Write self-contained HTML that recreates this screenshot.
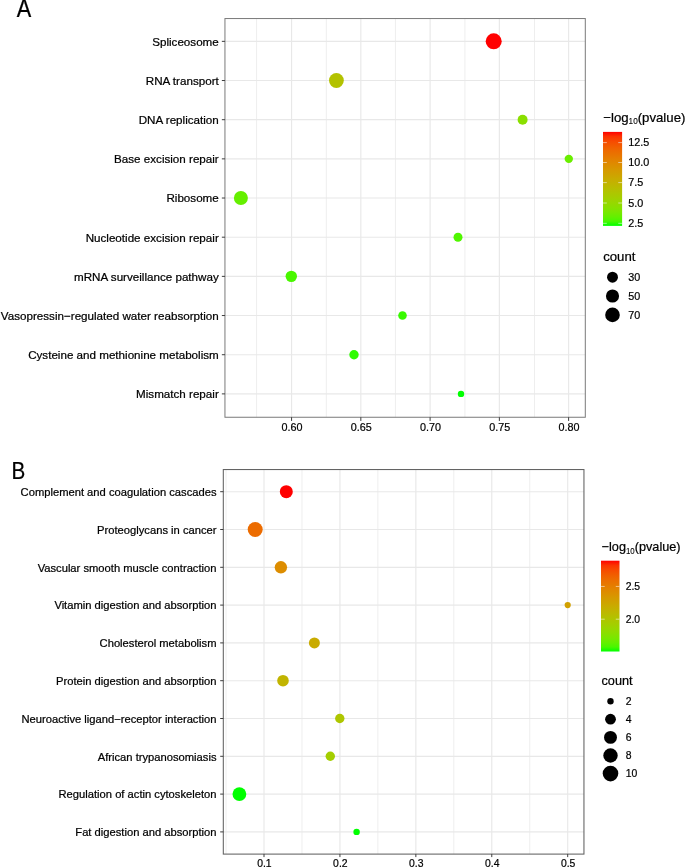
<!DOCTYPE html>
<html><head><meta charset="utf-8"><title>Pathway enrichment</title>
<style>
html,body{margin:0;padding:0;background:#fff;}
body{width:685px;height:868px;overflow:hidden;}
svg{display:block;}
svg text{font-family:"Liberation Sans",Arial,Helvetica,sans-serif;stroke:#000;stroke-width:0.22px;}
</style></head><body>
<svg width="685" height="868" viewBox="0 0 685 868">
<rect width="685" height="868" fill="#fff"/>
<line x1="256.60" x2="256.60" y1="18.55" y2="417.25" stroke="#eeeeee" stroke-width="1.0"/>
<line x1="326.30" x2="326.30" y1="18.55" y2="417.25" stroke="#eeeeee" stroke-width="1.0"/>
<line x1="395.40" x2="395.40" y1="18.55" y2="417.25" stroke="#eeeeee" stroke-width="1.0"/>
<line x1="464.90" x2="464.90" y1="18.55" y2="417.25" stroke="#eeeeee" stroke-width="1.0"/>
<line x1="534.50" x2="534.50" y1="18.55" y2="417.25" stroke="#eeeeee" stroke-width="1.0"/>
<line x1="291.57" x2="291.57" y1="18.55" y2="417.25" stroke="#e8e8e8" stroke-width="1.15"/>
<line x1="360.83" x2="360.83" y1="18.55" y2="417.25" stroke="#e8e8e8" stroke-width="1.15"/>
<line x1="430.10" x2="430.10" y1="18.55" y2="417.25" stroke="#e8e8e8" stroke-width="1.15"/>
<line x1="499.36" x2="499.36" y1="18.55" y2="417.25" stroke="#e8e8e8" stroke-width="1.15"/>
<line x1="568.62" x2="568.62" y1="18.55" y2="417.25" stroke="#e8e8e8" stroke-width="1.15"/>
<line x1="224.95" x2="585.3" y1="41.35" y2="41.35" stroke="#e8e8e8" stroke-width="1.15"/>
<line x1="224.95" x2="585.3" y1="80.52" y2="80.52" stroke="#e8e8e8" stroke-width="1.15"/>
<line x1="224.95" x2="585.3" y1="119.69" y2="119.69" stroke="#e8e8e8" stroke-width="1.15"/>
<line x1="224.95" x2="585.3" y1="158.86" y2="158.86" stroke="#e8e8e8" stroke-width="1.15"/>
<line x1="224.95" x2="585.3" y1="198.03" y2="198.03" stroke="#e8e8e8" stroke-width="1.15"/>
<line x1="224.95" x2="585.3" y1="237.20" y2="237.20" stroke="#e8e8e8" stroke-width="1.15"/>
<line x1="224.95" x2="585.3" y1="276.37" y2="276.37" stroke="#e8e8e8" stroke-width="1.15"/>
<line x1="224.95" x2="585.3" y1="315.54" y2="315.54" stroke="#e8e8e8" stroke-width="1.15"/>
<line x1="224.95" x2="585.3" y1="354.71" y2="354.71" stroke="#e8e8e8" stroke-width="1.15"/>
<line x1="224.95" x2="585.3" y1="393.88" y2="393.88" stroke="#e8e8e8" stroke-width="1.15"/>
<circle cx="493.70" cy="41.35" r="8.00" fill="#ff0000"/>
<circle cx="336.40" cy="80.52" r="7.40" fill="#b3c200"/>
<circle cx="522.60" cy="119.69" r="5.00" fill="#8adf00"/>
<circle cx="568.80" cy="158.86" r="4.20" fill="#6aee00"/>
<circle cx="240.90" cy="198.03" r="7.00" fill="#65ef00"/>
<circle cx="458.00" cy="237.20" r="4.50" fill="#50f600"/>
<circle cx="291.30" cy="276.37" r="5.70" fill="#49f700"/>
<circle cx="402.50" cy="315.54" r="4.30" fill="#38fa00"/>
<circle cx="354.00" cy="354.71" r="4.70" fill="#2efc00"/>
<circle cx="461.00" cy="393.88" r="3.20" fill="#00ff00"/>
<rect x="224.95" y="18.55" width="360.34999999999997" height="398.7" fill="none" stroke="#7a7a7a" stroke-width="1"/>
<line x1="221.85" x2="224.95" y1="41.35" y2="41.35" stroke="#333" stroke-width="0.95"/>
<line x1="221.85" x2="224.95" y1="80.52" y2="80.52" stroke="#333" stroke-width="0.95"/>
<line x1="221.85" x2="224.95" y1="119.69" y2="119.69" stroke="#333" stroke-width="0.95"/>
<line x1="221.85" x2="224.95" y1="158.86" y2="158.86" stroke="#333" stroke-width="0.95"/>
<line x1="221.85" x2="224.95" y1="198.03" y2="198.03" stroke="#333" stroke-width="0.95"/>
<line x1="221.85" x2="224.95" y1="237.20" y2="237.20" stroke="#333" stroke-width="0.95"/>
<line x1="221.85" x2="224.95" y1="276.37" y2="276.37" stroke="#333" stroke-width="0.95"/>
<line x1="221.85" x2="224.95" y1="315.54" y2="315.54" stroke="#333" stroke-width="0.95"/>
<line x1="221.85" x2="224.95" y1="354.71" y2="354.71" stroke="#333" stroke-width="0.95"/>
<line x1="221.85" x2="224.95" y1="393.88" y2="393.88" stroke="#333" stroke-width="0.95"/>
<line x1="291.57" x2="291.57" y1="417.25" y2="420.95" stroke="#333" stroke-width="0.95"/>
<line x1="360.83" x2="360.83" y1="417.25" y2="420.95" stroke="#333" stroke-width="0.95"/>
<line x1="430.10" x2="430.10" y1="417.25" y2="420.95" stroke="#333" stroke-width="0.95"/>
<line x1="499.36" x2="499.36" y1="417.25" y2="420.95" stroke="#333" stroke-width="0.95"/>
<line x1="568.62" x2="568.62" y1="417.25" y2="420.95" stroke="#333" stroke-width="0.95"/>
<text x="218.75" y="45.65" text-anchor="end" font-size="11.64" fill="#000">Spliceosome</text>
<text x="218.75" y="84.82" text-anchor="end" font-size="11.64" fill="#000">RNA transport</text>
<text x="218.75" y="123.99" text-anchor="end" font-size="11.64" fill="#000">DNA replication</text>
<text x="218.75" y="163.16" text-anchor="end" font-size="11.64" fill="#000">Base excision repair</text>
<text x="218.75" y="202.33" text-anchor="end" font-size="11.64" fill="#000">Ribosome</text>
<text x="218.75" y="241.50" text-anchor="end" font-size="11.64" fill="#000">Nucleotide excision repair</text>
<text x="218.75" y="280.67" text-anchor="end" font-size="11.64" fill="#000">mRNA surveillance pathway</text>
<text x="218.75" y="319.84" text-anchor="end" font-size="11.64" fill="#000">Vasopressin−regulated water reabsorption</text>
<text x="218.75" y="359.01" text-anchor="end" font-size="11.64" fill="#000">Cysteine and methionine metabolism</text>
<text x="218.75" y="398.18" text-anchor="end" font-size="11.64" fill="#000">Mismatch repair</text>
<text transform="translate(291.97,431.10) scale(0.93,1)" text-anchor="middle" font-size="11.64" fill="#000">0.60</text>
<text transform="translate(361.23,431.10) scale(0.93,1)" text-anchor="middle" font-size="11.64" fill="#000">0.65</text>
<text transform="translate(430.50,431.10) scale(0.93,1)" text-anchor="middle" font-size="11.64" fill="#000">0.70</text>
<text transform="translate(499.76,431.10) scale(0.93,1)" text-anchor="middle" font-size="11.64" fill="#000">0.75</text>
<text transform="translate(569.02,431.10) scale(0.93,1)" text-anchor="middle" font-size="11.64" fill="#000">0.80</text>
<text transform="translate(16.7,17.15) scale(0.974,1.136)" x="0" y="0" font-size="22.3" fill="#000">A</text>
<defs><linearGradient id="gA" x1="0" y1="0" x2="0" y2="1"><stop offset="0.00" stop-color="#ff0000"/><stop offset="0.05" stop-color="#fb3300"/><stop offset="0.10" stop-color="#f74a00"/><stop offset="0.15" stop-color="#f25b00"/><stop offset="0.20" stop-color="#ed6a00"/><stop offset="0.25" stop-color="#e87600"/><stop offset="0.30" stop-color="#e38200"/><stop offset="0.35" stop-color="#dd8d00"/><stop offset="0.40" stop-color="#d79800"/><stop offset="0.45" stop-color="#d0a100"/><stop offset="0.50" stop-color="#c9ab00"/><stop offset="0.55" stop-color="#c1b400"/><stop offset="0.60" stop-color="#b8bd00"/><stop offset="0.65" stop-color="#aec600"/><stop offset="0.70" stop-color="#a4ce00"/><stop offset="0.75" stop-color="#98d700"/><stop offset="0.80" stop-color="#8adf00"/><stop offset="0.85" stop-color="#7ae700"/><stop offset="0.90" stop-color="#65ef00"/><stop offset="0.95" stop-color="#49f700"/><stop offset="1.00" stop-color="#00ff00"/></linearGradient></defs>
<rect x="603" y="131.9" width="19.100000000000023" height="94.0" fill="url(#gA)"/>
<line x1="603" x2="606.82" y1="142.6" y2="142.6" stroke="#fff" stroke-width="0.6" stroke-opacity="0.9"/>
<line x1="618.28" x2="622.1" y1="142.6" y2="142.6" stroke="#fff" stroke-width="0.6" stroke-opacity="0.9"/>
<text transform="translate(628.3,146.20) scale(0.93,1)" font-size="11.64" fill="#000">12.5</text>
<line x1="603" x2="606.82" y1="162.5" y2="162.5" stroke="#fff" stroke-width="0.6" stroke-opacity="0.9"/>
<line x1="618.28" x2="622.1" y1="162.5" y2="162.5" stroke="#fff" stroke-width="0.6" stroke-opacity="0.9"/>
<text transform="translate(628.3,166.10) scale(0.93,1)" font-size="11.64" fill="#000">10.0</text>
<line x1="603" x2="606.82" y1="182.6" y2="182.6" stroke="#fff" stroke-width="0.6" stroke-opacity="0.9"/>
<line x1="618.28" x2="622.1" y1="182.6" y2="182.6" stroke="#fff" stroke-width="0.6" stroke-opacity="0.9"/>
<text transform="translate(628.3,186.20) scale(0.93,1)" font-size="11.64" fill="#000">7.5</text>
<line x1="603" x2="606.82" y1="203" y2="203" stroke="#fff" stroke-width="0.6" stroke-opacity="0.9"/>
<line x1="618.28" x2="622.1" y1="203" y2="203" stroke="#fff" stroke-width="0.6" stroke-opacity="0.9"/>
<text transform="translate(628.3,206.60) scale(0.93,1)" font-size="11.64" fill="#000">5.0</text>
<line x1="603" x2="606.82" y1="223.3" y2="223.3" stroke="#fff" stroke-width="0.6" stroke-opacity="0.9"/>
<line x1="618.28" x2="622.1" y1="223.3" y2="223.3" stroke="#fff" stroke-width="0.6" stroke-opacity="0.9"/>
<text transform="translate(628.3,226.90) scale(0.93,1)" font-size="11.64" fill="#000">2.5</text>
<text x="603.3" y="121.75" font-size="13.2" fill="#000">−log<tspan font-size="9.31" dy="2.7" textLength="9.11" lengthAdjust="spacingAndGlyphs" stroke-width="0.1">10</tspan><tspan dy="-2.7">(pvalue)</tspan></text>
<text x="603.2" y="261.0" font-size="13.2" fill="#000">count</text>
<circle cx="612.5" cy="277.2" r="5.45" fill="#000"/>
<text transform="translate(628.3,280.80) scale(0.93,1)" font-size="11.64" fill="#000">30</text>
<circle cx="612.5" cy="296" r="6.55" fill="#000"/>
<text transform="translate(628.3,299.60) scale(0.93,1)" font-size="11.64" fill="#000">50</text>
<circle cx="612.5" cy="314.9" r="7.3" fill="#000"/>
<text transform="translate(628.3,318.50) scale(0.93,1)" font-size="11.64" fill="#000">70</text>
<line x1="226.04" x2="226.04" y1="469.55" y2="854.1" stroke="#eeeeee" stroke-width="1.0"/>
<line x1="301.96" x2="301.96" y1="469.55" y2="854.1" stroke="#eeeeee" stroke-width="1.0"/>
<line x1="377.89" x2="377.89" y1="469.55" y2="854.1" stroke="#eeeeee" stroke-width="1.0"/>
<line x1="453.81" x2="453.81" y1="469.55" y2="854.1" stroke="#eeeeee" stroke-width="1.0"/>
<line x1="529.74" x2="529.74" y1="469.55" y2="854.1" stroke="#eeeeee" stroke-width="1.0"/>
<line x1="264.00" x2="264.00" y1="469.55" y2="854.1" stroke="#e8e8e8" stroke-width="1.15"/>
<line x1="339.93" x2="339.93" y1="469.55" y2="854.1" stroke="#e8e8e8" stroke-width="1.15"/>
<line x1="415.85" x2="415.85" y1="469.55" y2="854.1" stroke="#e8e8e8" stroke-width="1.15"/>
<line x1="491.78" x2="491.78" y1="469.55" y2="854.1" stroke="#e8e8e8" stroke-width="1.15"/>
<line x1="567.70" x2="567.70" y1="469.55" y2="854.1" stroke="#e8e8e8" stroke-width="1.15"/>
<line x1="223.3" x2="583.95" y1="491.70" y2="491.70" stroke="#e8e8e8" stroke-width="1.15"/>
<line x1="223.3" x2="583.95" y1="529.50" y2="529.50" stroke="#e8e8e8" stroke-width="1.15"/>
<line x1="223.3" x2="583.95" y1="567.30" y2="567.30" stroke="#e8e8e8" stroke-width="1.15"/>
<line x1="223.3" x2="583.95" y1="605.10" y2="605.10" stroke="#e8e8e8" stroke-width="1.15"/>
<line x1="223.3" x2="583.95" y1="642.90" y2="642.90" stroke="#e8e8e8" stroke-width="1.15"/>
<line x1="223.3" x2="583.95" y1="680.70" y2="680.70" stroke="#e8e8e8" stroke-width="1.15"/>
<line x1="223.3" x2="583.95" y1="718.50" y2="718.50" stroke="#e8e8e8" stroke-width="1.15"/>
<line x1="223.3" x2="583.95" y1="756.30" y2="756.30" stroke="#e8e8e8" stroke-width="1.15"/>
<line x1="223.3" x2="583.95" y1="794.10" y2="794.10" stroke="#e8e8e8" stroke-width="1.15"/>
<line x1="223.3" x2="583.95" y1="831.90" y2="831.90" stroke="#e8e8e8" stroke-width="1.15"/>
<circle cx="286.30" cy="491.70" r="6.50" fill="#ff0000"/>
<circle cx="255.20" cy="529.50" r="7.50" fill="#ec6c00"/>
<circle cx="280.90" cy="567.30" r="6.20" fill="#dd8d00"/>
<circle cx="567.70" cy="605.10" r="3.10" fill="#d1a000"/>
<circle cx="314.40" cy="642.90" r="5.50" fill="#c9ab00"/>
<circle cx="283.00" cy="680.70" r="5.80" fill="#c1b400"/>
<circle cx="339.80" cy="718.50" r="4.70" fill="#aec600"/>
<circle cx="330.30" cy="756.30" r="4.70" fill="#a4ce00"/>
<circle cx="239.40" cy="794.10" r="6.90" fill="#00ff00"/>
<circle cx="356.60" cy="831.90" r="3.20" fill="#00ff00"/>
<rect x="223.3" y="469.55" width="360.65000000000003" height="384.55" fill="none" stroke="#606060" stroke-width="1.05"/>
<line x1="220.20" x2="223.3" y1="491.70" y2="491.70" stroke="#333" stroke-width="0.95"/>
<line x1="220.20" x2="223.3" y1="529.50" y2="529.50" stroke="#333" stroke-width="0.95"/>
<line x1="220.20" x2="223.3" y1="567.30" y2="567.30" stroke="#333" stroke-width="0.95"/>
<line x1="220.20" x2="223.3" y1="605.10" y2="605.10" stroke="#333" stroke-width="0.95"/>
<line x1="220.20" x2="223.3" y1="642.90" y2="642.90" stroke="#333" stroke-width="0.95"/>
<line x1="220.20" x2="223.3" y1="680.70" y2="680.70" stroke="#333" stroke-width="0.95"/>
<line x1="220.20" x2="223.3" y1="718.50" y2="718.50" stroke="#333" stroke-width="0.95"/>
<line x1="220.20" x2="223.3" y1="756.30" y2="756.30" stroke="#333" stroke-width="0.95"/>
<line x1="220.20" x2="223.3" y1="794.10" y2="794.10" stroke="#333" stroke-width="0.95"/>
<line x1="220.20" x2="223.3" y1="831.90" y2="831.90" stroke="#333" stroke-width="0.95"/>
<line x1="264.00" x2="264.00" y1="854.1" y2="857.10" stroke="#333" stroke-width="0.95"/>
<line x1="339.93" x2="339.93" y1="854.1" y2="857.10" stroke="#333" stroke-width="0.95"/>
<line x1="415.85" x2="415.85" y1="854.1" y2="857.10" stroke="#333" stroke-width="0.95"/>
<line x1="491.78" x2="491.78" y1="854.1" y2="857.10" stroke="#333" stroke-width="0.95"/>
<line x1="567.70" x2="567.70" y1="854.1" y2="857.10" stroke="#333" stroke-width="0.95"/>
<text x="216.50" y="495.90" text-anchor="end" font-size="11.2" fill="#000">Complement and coagulation cascades</text>
<text x="216.50" y="533.70" text-anchor="end" font-size="11.2" fill="#000">Proteoglycans in cancer</text>
<text x="216.50" y="571.50" text-anchor="end" font-size="11.2" fill="#000">Vascular smooth muscle contraction</text>
<text x="216.50" y="609.30" text-anchor="end" font-size="11.2" fill="#000">Vitamin digestion and absorption</text>
<text x="216.50" y="647.10" text-anchor="end" font-size="11.2" fill="#000">Cholesterol metabolism</text>
<text x="216.50" y="684.90" text-anchor="end" font-size="11.2" fill="#000">Protein digestion and absorption</text>
<text x="216.50" y="722.70" text-anchor="end" font-size="11.2" fill="#000">Neuroactive ligand−receptor interaction</text>
<text x="216.50" y="760.50" text-anchor="end" font-size="11.2" fill="#000">African trypanosomiasis</text>
<text x="216.50" y="798.30" text-anchor="end" font-size="11.2" fill="#000">Regulation of actin cytoskeleton</text>
<text x="216.50" y="836.10" text-anchor="end" font-size="11.2" fill="#000">Fat digestion and absorption</text>
<text transform="translate(264.40,867.20) scale(0.93,1)" text-anchor="middle" font-size="11.2" fill="#000">0.1</text>
<text transform="translate(340.32,867.20) scale(0.93,1)" text-anchor="middle" font-size="11.2" fill="#000">0.2</text>
<text transform="translate(416.25,867.20) scale(0.93,1)" text-anchor="middle" font-size="11.2" fill="#000">0.3</text>
<text transform="translate(492.18,867.20) scale(0.93,1)" text-anchor="middle" font-size="11.2" fill="#000">0.4</text>
<text transform="translate(568.10,867.20) scale(0.93,1)" text-anchor="middle" font-size="11.2" fill="#000">0.5</text>
<text transform="translate(11.55,479.2) scale(0.925,1.105)" x="0" y="0" font-size="22.3" fill="#000">B</text>
<defs><linearGradient id="gB" x1="0" y1="0" x2="0" y2="1"><stop offset="0.00" stop-color="#ff0000"/><stop offset="0.05" stop-color="#fb3300"/><stop offset="0.10" stop-color="#f74a00"/><stop offset="0.15" stop-color="#f25b00"/><stop offset="0.20" stop-color="#ed6a00"/><stop offset="0.25" stop-color="#e87600"/><stop offset="0.30" stop-color="#e38200"/><stop offset="0.35" stop-color="#dd8d00"/><stop offset="0.40" stop-color="#d79800"/><stop offset="0.45" stop-color="#d0a100"/><stop offset="0.50" stop-color="#c9ab00"/><stop offset="0.55" stop-color="#c1b400"/><stop offset="0.60" stop-color="#b8bd00"/><stop offset="0.65" stop-color="#aec600"/><stop offset="0.70" stop-color="#a4ce00"/><stop offset="0.75" stop-color="#98d700"/><stop offset="0.80" stop-color="#8adf00"/><stop offset="0.85" stop-color="#7ae700"/><stop offset="0.90" stop-color="#65ef00"/><stop offset="0.95" stop-color="#49f700"/><stop offset="1.00" stop-color="#00ff00"/></linearGradient></defs>
<rect x="601.0" y="560.7" width="18.5" height="90.79999999999995" fill="url(#gB)"/>
<line x1="601.0" x2="604.70" y1="586.45" y2="586.45" stroke="#fff" stroke-width="0.6" stroke-opacity="0.9"/>
<line x1="615.80" x2="619.5" y1="586.45" y2="586.45" stroke="#fff" stroke-width="0.6" stroke-opacity="0.9"/>
<text transform="translate(625.7,590.25) scale(0.93,1)" font-size="11.2" fill="#000">2.5</text>
<line x1="601.0" x2="604.70" y1="619.2" y2="619.2" stroke="#fff" stroke-width="0.6" stroke-opacity="0.9"/>
<line x1="615.80" x2="619.5" y1="619.2" y2="619.2" stroke="#fff" stroke-width="0.6" stroke-opacity="0.9"/>
<text transform="translate(625.7,623.00) scale(0.93,1)" font-size="11.2" fill="#000">2.0</text>
<text x="601.6" y="551.3" font-size="12.7" fill="#000">−log<tspan font-size="8.95" dy="2.7" textLength="8.76" lengthAdjust="spacingAndGlyphs" stroke-width="0.1">10</tspan><tspan dy="-2.7">(pvalue)</tspan></text>
<text x="601.5" y="684.8" font-size="12.7" fill="#000">count</text>
<circle cx="610.5" cy="701.3" r="3.2" fill="#000"/>
<text transform="translate(625.7,705.10) scale(0.93,1)" font-size="11.2" fill="#000">2</text>
<circle cx="610.5" cy="719.2" r="5.4" fill="#000"/>
<text transform="translate(625.7,723.00) scale(0.93,1)" font-size="11.2" fill="#000">4</text>
<circle cx="610.5" cy="737.4" r="6.45" fill="#000"/>
<text transform="translate(625.7,741.20) scale(0.93,1)" font-size="11.2" fill="#000">6</text>
<circle cx="610.5" cy="755.5" r="7.2" fill="#000"/>
<text transform="translate(625.7,759.30) scale(0.93,1)" font-size="11.2" fill="#000">8</text>
<circle cx="610.5" cy="773.6" r="7.8" fill="#000"/>
<text transform="translate(625.7,777.40) scale(0.93,1)" font-size="11.2" fill="#000">10</text>
</svg>
</body></html>
